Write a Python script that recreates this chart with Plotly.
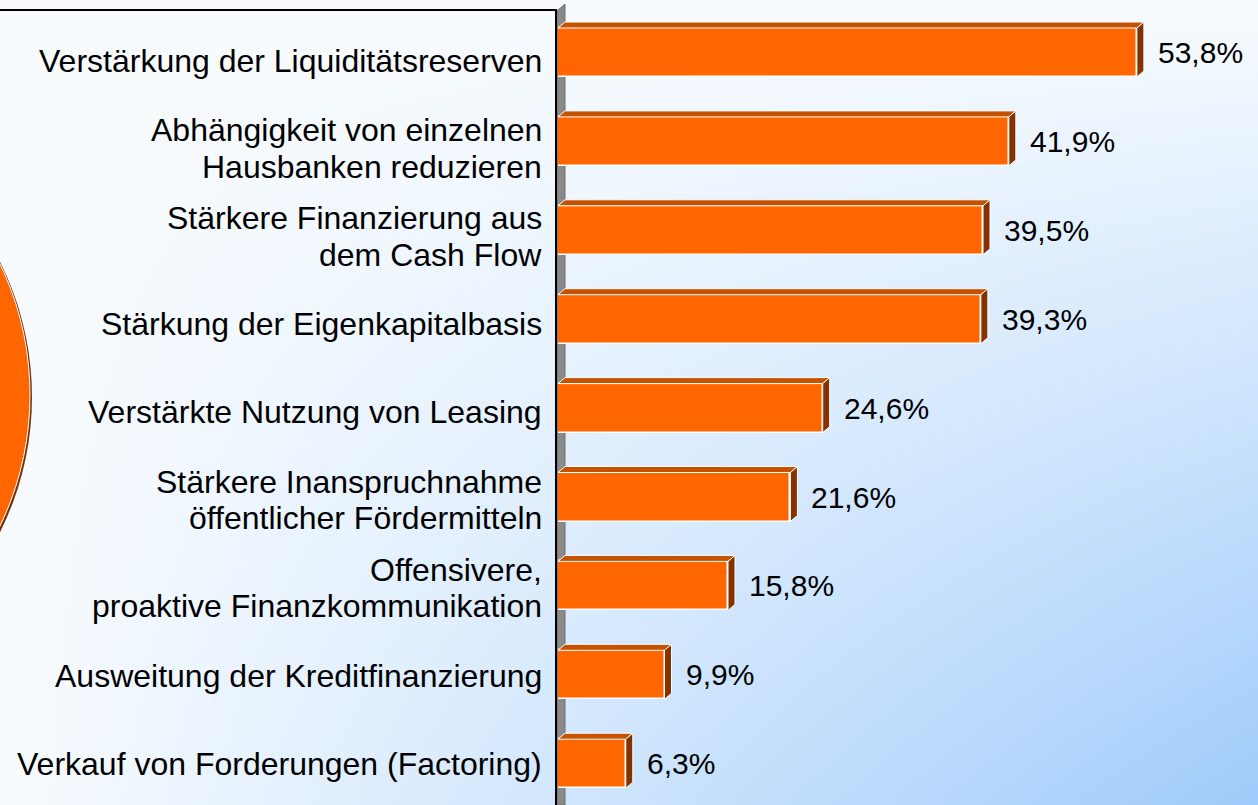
import base64
import struct
import zlib

import numpy as np
import plotly.graph_objects as go

# ---------------- data ----------------
categories = [
    "Verstärkung der Liquiditätsreserven",
    "Abhängigkeit von einzelnen\nHausbanken reduzieren",
    "Stärkere Finanzierung aus\ndem Cash Flow",
    "Stärkung der Eigenkapitalbasis",
    "Verstärkte Nutzung von Leasing",
    "Stärkere Inanspruchnahme\nöffentlicher Fördermitteln",
    "Offensivere,\nproaktive Finanzkommunikation",
    "Ausweitung der Kreditfinanzierung",
    "Verkauf von Forderungen (Factoring)",
]
values = [53.8, 41.9, 39.5, 39.3, 24.6, 21.6, 15.8, 9.9, 6.3]
value_labels = [f"{v:.1f}".replace(".", ",") + "%" for v in values]

# ---------------- geometry / style ----------------
W, H = 1258, 805
X0_PX = 558            # pixel position of value 0
PX_PER_UNIT = 10.76    # pixels per percent
Y0_PX = 52.5           # pixel centre of first bar
Y_STEP = 88.9          # pixels per category
BAR_PX = 49
DEPTH_X_PX, DEPTH_Y_PX = 7, 6

ORANGE = "#FF6600"
TOP = "#C45200"
SIDE = "#843200"
FONT = "Liberation Sans, Arial, sans-serif"

n = len(values)
idx = list(range(n))
x_range = [0, (W - X0_PX) / PX_PER_UNIT]
y_range = [(n - 1) + (H - (Y0_PX + (n - 1) * Y_STEP)) / Y_STEP, -Y0_PX / Y_STEP]
bar_w = BAR_PX / Y_STEP
dx = DEPTH_X_PX / PX_PER_UNIT
dy = DEPTH_Y_PX / Y_STEP


def px(x):
    return x / W


def py(y):
    return 1 - y / H


def poly_path(pts):
    return "M " + " L ".join(f"{px(x):.5f},{py(y):.5f}" for x, y in pts) + " Z"


# ---------------- background gradient image ----------------
def make_png(pixels):
    h, w, _ = pixels.shape
    raw = b"".join(b"\x00" + pixels[r].tobytes() for r in range(h))

    def chunk(t, d):
        return (struct.pack(">I", len(d)) + t + d
                + struct.pack(">I", zlib.crc32(t + d) & 0xFFFFFFFF))

    return (b"\x89PNG\r\n\x1a\n"
            + chunk(b"IHDR", struct.pack(">IIBBBBB", w, h, 8, 2, 0, 0, 0))
            + chunk(b"IDAT", zlib.compress(raw, 9))
            + chunk(b"IEND", b""))


gw, gh = 315, 202
gx = (np.arange(gw) + 0.5) / gw
gy = (np.arange(gh) + 0.5) / gh
GX, GY = np.meshgrid(gx, gy)
t = GX * GY
c0 = np.array([249, 252, 255], dtype=float)
c1 = np.array([160, 204, 251], dtype=float)
img = (c0[None, None, :] * (1 - t[..., None]) + c1[None, None, :] * t[..., None])
img = np.clip(img, 0, 255).astype(np.uint8)
bg_src = "data:image/png;base64," + base64.b64encode(make_png(img)).decode()

# ---------------- figure ----------------
fig = go.Figure()

fig.add_trace(go.Bar(
    x=values, y=idx, orientation="h", width=bar_w,
    marker=dict(color=ORANGE, line=dict(color="white", width=1.5)),
    hoverinfo="skip", showlegend=False,
))

shapes = []

# left decorative orange ellipse (partly off-canvas), drawn as polygon
ang = np.linspace(0, 2 * np.pi, 121)
ecx, ecy, erx, ery = -258, 395, 288, 295
brown_pts = [(ecx + 2 + erx * np.cos(a), ecy + 2 + ery * np.sin(a)) for a in ang]
orange_pts = [(ecx + erx * np.cos(a), ecy + ery * np.sin(a)) for a in ang]
shapes.append(dict(type="path", xref="paper", yref="paper", layer="below",
                   path=poly_path(brown_pts), fillcolor="#7A3000", line=dict(width=0)))
shapes.append(dict(type="path", xref="paper", yref="paper", layer="below",
                   path=poly_path(orange_pts), fillcolor=ORANGE,
                   line=dict(color="white", width=1)))

# 3D axis wall
shapes.append(dict(type="path", xref="paper", yref="paper", layer="below",
                   path=poly_path([(557, H), (557, 11), (565, 4), (565, H)]),
                   fillcolor="#8A8A8A", line=dict(color="#6E6E6E", width=1)))

# text box border (top and right edge)
shapes.append(dict(type="path", xref="paper", yref="paper", layer="above",
                   path=f"M {px(0)},{py(10)} L {px(556)},{py(10)} L {px(556)},{py(H + 2)}",
                   line=dict(color="black", width=2)))

# top and side faces of the 3D bars
for i, v in zip(idx, values):
    y_top = i - bar_w / 2
    y_bot = i + bar_w / 2
    shapes.append(dict(
        type="path", xref="x", yref="y", layer="above",
        path=(f"M 0,{y_top} L {v},{y_top} L {v + dx},{y_top - dy} "
              f"L {dx},{y_top - dy} Z"),
        fillcolor=TOP, line=dict(color="white", width=1)))
    shapes.append(dict(
        type="path", xref="x", yref="y", layer="above",
        path=(f"M {v},{y_top} L {v + dx},{y_top - dy} L {v + dx},{y_bot - dy} "
              f"L {v},{y_bot} Z"),
        fillcolor=SIDE, line=dict(color="white", width=1)))

annotations = []
# value labels
for i, v, lab in zip(idx, values, value_labels):
    annotations.append(dict(x=v, y=i, xref="x", yref="y", text=lab,
                            showarrow=False, xanchor="left", yanchor="middle",
                            xshift=19, font=dict(family=FONT, size=30, color="black")))

# category labels (right aligned, tight line spacing)
LABEL_Y0, LABEL_STEP, LINE_GAP = 60.5, 87.9, 36.5
for i, cat in enumerate(categories):
    lines = cat.split("\n")
    yc = LABEL_Y0 + LABEL_STEP * i
    for k, line in enumerate(lines):
        yl = yc + (k - (len(lines) - 1) / 2) * LINE_GAP
        annotations.append(dict(x=px(544), y=py(yl), xref="paper", yref="paper",
                                text=line, showarrow=False, xanchor="right",
                                yanchor="middle",
                                font=dict(family=FONT, size=32, color="black")))

fig.update_layout(
    width=W, height=H, autosize=False,
    margin=dict(l=0, r=0, t=0, b=0, pad=0),
    paper_bgcolor="white", plot_bgcolor="rgba(0,0,0,0)",
    xaxis=dict(domain=[px(X0_PX), 1], range=x_range, visible=False,
               showgrid=False, zeroline=False, fixedrange=True),
    yaxis=dict(domain=[0, 1], range=y_range, visible=False,
               showgrid=False, zeroline=False, fixedrange=True),
    bargap=0,
    shapes=shapes,
    annotations=annotations,
    images=[dict(source=bg_src, xref="paper", yref="paper", x=0, y=1,
                 sizex=1, sizey=1, sizing="stretch", xanchor="left",
                 yanchor="top", layer="below")],
    showlegend=False,
)

fig.write_html(
    "out.html",
    config={"displayModeBar": False},
    post_script="document.body.style.margin='0';document.body.style.overflow='hidden';",
)
